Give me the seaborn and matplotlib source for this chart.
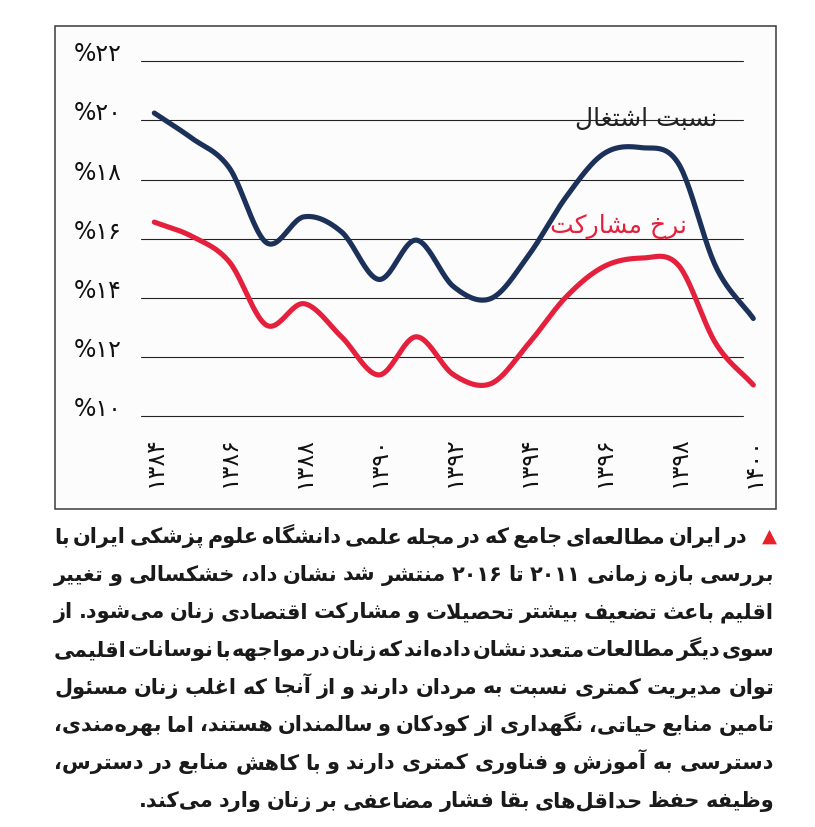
import numpy as np
import matplotlib
matplotlib.use('Agg')
import matplotlib.pyplot as plt
from matplotlib.patches import Rectangle
import seaborn as sns

# data
years = [1384, 1385, 1386, 1387, 1388, 1389, 1390, 1391, 1392,
         1393, 1394, 1395, 1396, 1397, 1398, 1399, 1400]
employment = [20.25, 19.4, 18.4, 15.86, 16.74, 16.23, 14.62, 15.95, 14.37,
              13.98, 15.44, 17.41, 18.87, 19.08, 18.54, 15.05, 13.3]
participation = [16.56, 16.08, 15.22, 13.07, 13.8, 12.68, 11.39, 12.68, 11.39,
                 11.1, 12.45, 14.03, 15.05, 15.34, 15.1, 12.45, 11.05]

employment_label = 'نسبت اشتغال'
participation_label = 'نرخ مشارکت'

x_ticks = [1384, 1386, 1388, 1390, 1392, 1394, 1396, 1398, 1400]
x_tick_labels = ['۱۳۸۴', '۱۳۸۶', '۱۳۸۸', '۱۳۹۰', '۱۳۹۲', '۱۳۹۴', '۱۳۹۶', '۱۳۹۸', '۱۴۰۰']
y_ticks = [10, 12, 14, 16, 18, 20, 22]
y_tick_labels = ['%۱۰', '%۱۲', '%۱۴', '%۱۶', '%۱۸', '%۲۰', '%۲۲']

caption_lines = [
    'در ایران مطالعه‌ای جامع که در مجله علمی دانشگاه علوم پزشکی ایران با',
    'بررسی بازه زمانی ۲۰۱۱ تا ۲۰۱۶ منتشر شد نشان داد، خشکسالی و تغییر',
    'اقلیم باعث تضعیف بیشتر تحصیلات و مشارکت اقتصادی زنان می‌شود. از',
    'سوی دیگر مطالعات متعدد نشان داده‌اند که زنان در مواجهه با نوسانات اقلیمی',
    'توان مدیریت کمتری نسبت به مردان دارند و از آنجا که اغلب زنان مسئول',
    'تامین منابع حیاتی، نگهداری از کودکان و سالمندان هستند، اما بهره‌مندی،',
    'دسترسی به آموزش و فناوری کمتری دارند و با کاهش منابع در دسترس،',
    'وظیفه حفظ حداقل‌های بقا فشار مضاعفی بر زنان وارد می‌کند.',
]

NAVY = '#1c3159'
RED = '#e5203d'

# --- minimal arabic/persian shaping (matplotlib has no text shaping) ---
FORMS = {  # isolated, final, initial, medial
    '\u0622': '\uFE81\uFE82', '\u0623': '\uFE83\uFE84', '\u0624': '\uFE85\uFE86',
    '\u0626': '\uFE89\uFE8A\uFE8B\uFE8C', '\u0627': '\uFE8D\uFE8E',
    '\u0628': '\uFE8F\uFE90\uFE91\uFE92', '\u0629': '\uFE93\uFE94',
    '\u062A': '\uFE95\uFE96\uFE97\uFE98', '\u062B': '\uFE99\uFE9A\uFE9B\uFE9C',
    '\u062C': '\uFE9D\uFE9E\uFE9F\uFEA0', '\u062D': '\uFEA1\uFEA2\uFEA3\uFEA4',
    '\u062E': '\uFEA5\uFEA6\uFEA7\uFEA8', '\u062F': '\uFEA9\uFEAA',
    '\u0630': '\uFEAB\uFEAC', '\u0631': '\uFEAD\uFEAE', '\u0632': '\uFEAF\uFEB0',
    '\u0633': '\uFEB1\uFEB2\uFEB3\uFEB4', '\u0634': '\uFEB5\uFEB6\uFEB7\uFEB8',
    '\u0635': '\uFEB9\uFEBA\uFEBB\uFEBC', '\u0636': '\uFEBD\uFEBE\uFEBF\uFEC0',
    '\u0637': '\uFEC1\uFEC2\uFEC3\uFEC4', '\u0638': '\uFEC5\uFEC6\uFEC7\uFEC8',
    '\u0639': '\uFEC9\uFECA\uFECB\uFECC', '\u063A': '\uFECD\uFECE\uFECF\uFED0',
    '\u0641': '\uFED1\uFED2\uFED3\uFED4', '\u0642': '\uFED5\uFED6\uFED7\uFED8',
    '\u0643': '\uFED9\uFEDA\uFEDB\uFEDC', '\u0644': '\uFEDD\uFEDE\uFEDF\uFEE0',
    '\u0645': '\uFEE1\uFEE2\uFEE3\uFEE4', '\u0646': '\uFEE5\uFEE6\uFEE7\uFEE8',
    '\u0647': '\uFEE9\uFEEA\uFEEB\uFEEC', '\u0648': '\uFEED\uFEEE',
    '\u064A': '\uFEF1\uFEF2\uFEF3\uFEF4', '\u067E': '\uFB56\uFB57\uFB58\uFB59',
    '\u0686': '\uFB7A\uFB7B\uFB7C\uFB7D', '\u0698': '\uFB8A\uFB8B',
    '\u06A9': '\uFB8E\uFB8F\uFB90\uFB91', '\u06AF': '\uFB92\uFB93\uFB94\uFB95',
    '\u06CC': '\uFBFC\uFBFD\uFBFE\uFBFF',
}
LAM_ALEF = {'\u0627': '\uFEFB\uFEFC', '\u0622': '\uFEF5\uFEF6', '\u0623': '\uFEF7\uFEF8'}
ZWNJ = '\u200c'


def dual(c):
    return c in FORMS and len(FORMS[c]) == 4


def shape(word):
    out = []
    i = 0
    while i < len(word):
        c = word[i]
        if c not in FORMS:
            if c != ZWNJ:
                out.append(c)
            i += 1
            continue
        link_prev = i > 0 and dual(word[i - 1])
        nxt = word[i + 1] if i + 1 < len(word) else ''
        if c == '\u0644' and nxt in LAM_ALEF:
            out.append(LAM_ALEF[nxt][1 if link_prev else 0])
            i += 2
            continue
        link_next = dual(c) and nxt in FORMS
        f = FORMS[c]
        if link_prev and link_next:
            out.append(f[3])
        elif link_prev:
            out.append(f[1])
        elif link_next:
            out.append(f[2])
        else:
            out.append(f[0])
        i += 1
    return ''.join(out)


def visual_word(word):
    if all(not ('\u0600' <= ch <= '\u06FF') or '\u06F0' <= ch <= '\u06F9' for ch in word):
        return word  # digits / latin stay left-to-right
    return shape(word)[::-1]


def rtl(text):
    return ' '.join(visual_word(w) for w in reversed(text.split(' ')))


def smooth(x, y, n=24):
    # cubic hermite through the yearly points, only for drawing a soft curve
    x = np.asarray(x, float)
    y = np.asarray(y, float)
    m = np.gradient(y, x)
    xs, ys = [], []
    t = np.linspace(0, 1, n, endpoint=False)
    for i in range(len(x) - 1):
        h = x[i + 1] - x[i]
        h00 = 2 * t**3 - 3 * t**2 + 1
        h10 = t**3 - 2 * t**2 + t
        h01 = -2 * t**3 + 3 * t**2
        h11 = t**3 - t**2
        xs.append(x[i] + t * h)
        ys.append(h00 * y[i] + h10 * h * m[i] + h01 * y[i + 1] + h11 * h * m[i + 1])
    xs.append([x[-1]])
    ys.append([y[-1]])
    return np.concatenate(xs), np.concatenate(ys)


sns.set_theme(style='white')
plt.rcParams['font.family'] = ['DejaVu Sans']

W, H = 815, 827
fig = plt.figure(figsize=(W / 100, H / 100), dpi=100)
fig.patch.set_facecolor('white')

# frame around the chart (behind the axes)
fig.patches.append(Rectangle((55 / W, 1 - 509 / H), 721 / W, 483 / H, transform=fig.transFigure,
                             facecolor='#fcfcfc', edgecolor='#3a3a3a', linewidth=1.1, zorder=-5))

ax_l, ax_r, ax_t, ax_b = 141, 760, 55, 420
ax = fig.add_axes([ax_l / W, 1 - ax_b / H, (ax_r - ax_l) / W, (ax_b - ax_t) / H])
ax.set_zorder(2)
ax.set_facecolor('none')
px_per_year = (753.3 - 154.3) / 16
ax.set_xlim(1384 - (154.3 - ax_l) / px_per_year, 1400 + (ax_r - 753.3) / px_per_year)
px_per_unit = (416 - 61.3) / 12
ax.set_ylim(10 - (ax_b - 416) / px_per_unit, 22 + (61.3 - ax_t) / px_per_unit)
for s in ax.spines.values():
    s.set_visible(False)

for yv in y_ticks:
    ax.axhline(yv, xmin=0, xmax=(743 - ax_l) / (ax_r - ax_l), color='#222222', linewidth=0.8, zorder=1)

ex, ey = smooth(years, employment)
px, py = smooth(years, participation)
sns.lineplot(x=ex, y=ey, sort=False, color=NAVY, linewidth=3.7, ax=ax, zorder=3,
             solid_capstyle='round')
sns.lineplot(x=px, y=py, sort=False, color=RED, linewidth=3.7, ax=ax, zorder=3,
             solid_capstyle='round')

ax.set_xticks(x_ticks)
ax.set_xticklabels(x_tick_labels, rotation=90, fontsize=17, color='#111111', va='top', ha='center')
ax.set_yticks(y_ticks)
ax.set_yticklabels(y_tick_labels, fontsize=17, color='#111111', va='baseline')
ax.tick_params(axis='x', length=0, pad=12)
ax.tick_params(axis='y', length=0, pad=14)
ax.set_xlabel('')
ax.set_ylabel('')

ax.text(1399.03, 19.81, rtl(employment_label), ha='right', va='baseline', fontsize=18,
        color='#222222', zorder=2)
ax.text(1398.23, 16.18, rtl(participation_label), ha='right', va='baseline', fontsize=18,
        color=RED, zorder=2)

# caption, justified right-to-left, one text per word
renderer = fig.canvas.get_renderer()
cap_left, cap_right = 54, 774
cap_size = 15
for k, line in enumerate(caption_lines):
    base = 543 + 37.7 * k
    right = cap_right
    if k == 0:
        fig.text(777 / W, 1 - (base - 1) / H, '▲', ha='right', va='baseline', fontsize=14, color='#e8202a')
        right = 748
    words = line.split(' ')
    texts = [fig.text(0, 1 - base / H, visual_word(w), ha='right', va='baseline',
                      fontsize=cap_size, fontweight='bold', color='#1a1a1a') for w in words]
    widths = [t.get_window_extent(renderer).width for t in texts]
    if k < len(caption_lines) - 1:
        gap = (right - cap_left - sum(widths)) / (len(words) - 1)
    else:
        gap = 5.0
    xr = right
    for t, w in zip(texts, widths):
        t.set_x(xr / W)
        xr -= w + gap

fig.savefig('out.png', dpi=100)
